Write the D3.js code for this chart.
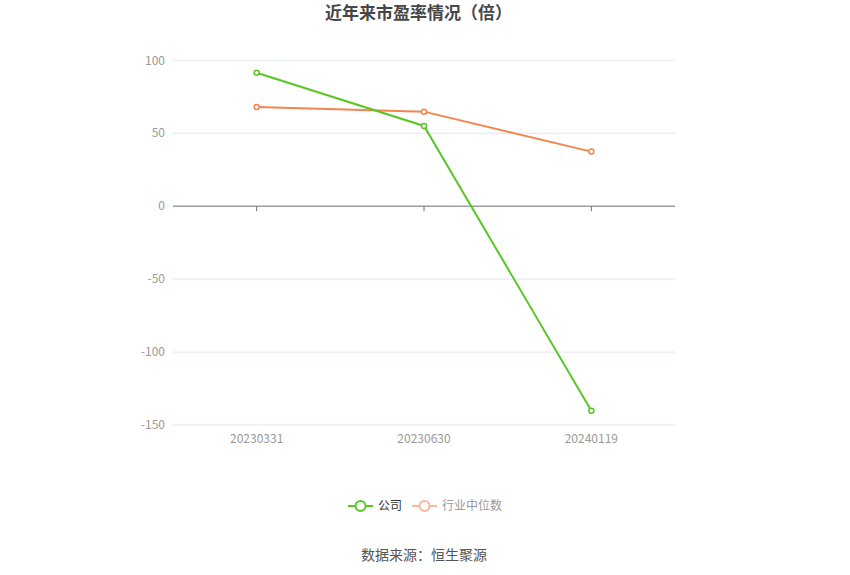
<!DOCTYPE html>
<html><head><meta charset="utf-8">
<script src="https://cdn.jsdelivr.net/npm/d3@7"></script>
<style>body{margin:0;background:#fff;}svg{display:block;font-family:"Noto Sans CJK SC","Noto Sans",sans-serif;}</style>
</head><body>
<svg id="c" width="850" height="575"></svg>
<script>
const categories = ["20230331","20230630","20240119"];
const companyValues = [91.5, 55.0, -140.2];
const industryValues = [68.0, 64.8, 37.4];
const yTicks = [100, 50, 0, -50, -100, -150];
const seriesNames = ["公司","行业中位数"];

(function(){
const svg = d3.select("#c");
const pLeft = 173, pRight = 675, pTop = 60.3, pBottom = 425;
const x = d3.scaleBand().domain(categories).range([pLeft, pRight]);
const y = d3.scaleLinear().domain([-150, 100]).range([pBottom, pTop]);

svg.append("text").attr("x", 325).attr("y", 13).attr("dy", "0.35em").attr("text-anchor", "start")
  .attr("font-size", 17).attr("font-weight", "bold").attr("fill", "#464646").text("近年来市盈率情况（倍）");

// grid
svg.append("g").selectAll("line").data(yTicks.filter(d => d !== 0)).join("line")
  .attr("x1", pLeft).attr("x2", pRight).attr("y1", d => y(d)).attr("y2", d => y(d))
  .attr("stroke", "#e0e6f1").attr("stroke-width", 1);

// y labels
svg.append("g").selectAll("text").data(yTicks).join("text")
  .attr("x", 165).attr("y", d => y(d)).attr("dy", "0.35em").attr("text-anchor", "end")
  .attr("font-size", 12).attr("fill", "#999").text(d => d);

// zero axis
svg.append("line").attr("x1", pLeft).attr("x2", pRight).attr("y1", y(0)).attr("y2", y(0))
  .attr("stroke", "#6e7079").attr("stroke-width", 1);
svg.append("g").selectAll("line").data(categories).join("line")
  .attr("x1", d => x(d) + x.bandwidth()/2).attr("x2", d => x(d) + x.bandwidth()/2)
  .attr("y1", y(0)).attr("y2", y(0) + 5).attr("stroke", "#6e7079");

// x labels
svg.append("g").selectAll("text").data(categories).join("text")
  .attr("x", d => x(d) + x.bandwidth()/2).attr("y", 443).attr("text-anchor", "middle")
  .attr("font-size", 12).attr("fill", "#999").text(d => d);

const cx = d => x(d) + x.bandwidth()/2;
function drawSeries(vals, color) {
  const data = categories.map((c, i) => [c, vals[i]]);
  svg.append("path").datum(data)
    .attr("d", d3.line().x(d => cx(d[0])).y(d => y(d[1])))
    .attr("fill", "none").attr("stroke", color).attr("stroke-width", 2);
  svg.append("g").selectAll("circle").data(data).join("circle")
    .attr("cx", d => cx(d[0])).attr("cy", d => y(d[1])).attr("r", 2.5)
    .attr("fill", "#fff").attr("stroke", color).attr("stroke-width", 1.5);
}
drawSeries(industryValues, "#f5844f");
drawSeries(companyValues, "#5ac626");

// legend
function legendItem(xp, color, textColor, label) {
  const g = svg.append("g");
  g.append("line").attr("x1", xp).attr("x2", xp + 25).attr("y1", 506).attr("y2", 506)
    .attr("stroke", color).attr("stroke-width", 2);
  g.append("circle").attr("cx", xp + 12.5).attr("cy", 506).attr("r", 5)
    .attr("fill", "#fff").attr("stroke", color).attr("stroke-width", 2);
  g.append("text").attr("x", xp + 30).attr("y", 506).attr("dy", "0.35em")
    .attr("font-size", 12).attr("fill", textColor).text(label);
}
legendItem(348, "#5ac626", "#333", seriesNames[0]);
legendItem(412, "#fbb8a0", "#999", seriesNames[1]);

svg.append("text").attr("x", 361).attr("y", 555).attr("dy", "0.35em").attr("text-anchor", "start")
  .attr("font-size", 14).attr("fill", "#555").text("数据来源：恒生聚源");
})();
</script>
</body></html>
